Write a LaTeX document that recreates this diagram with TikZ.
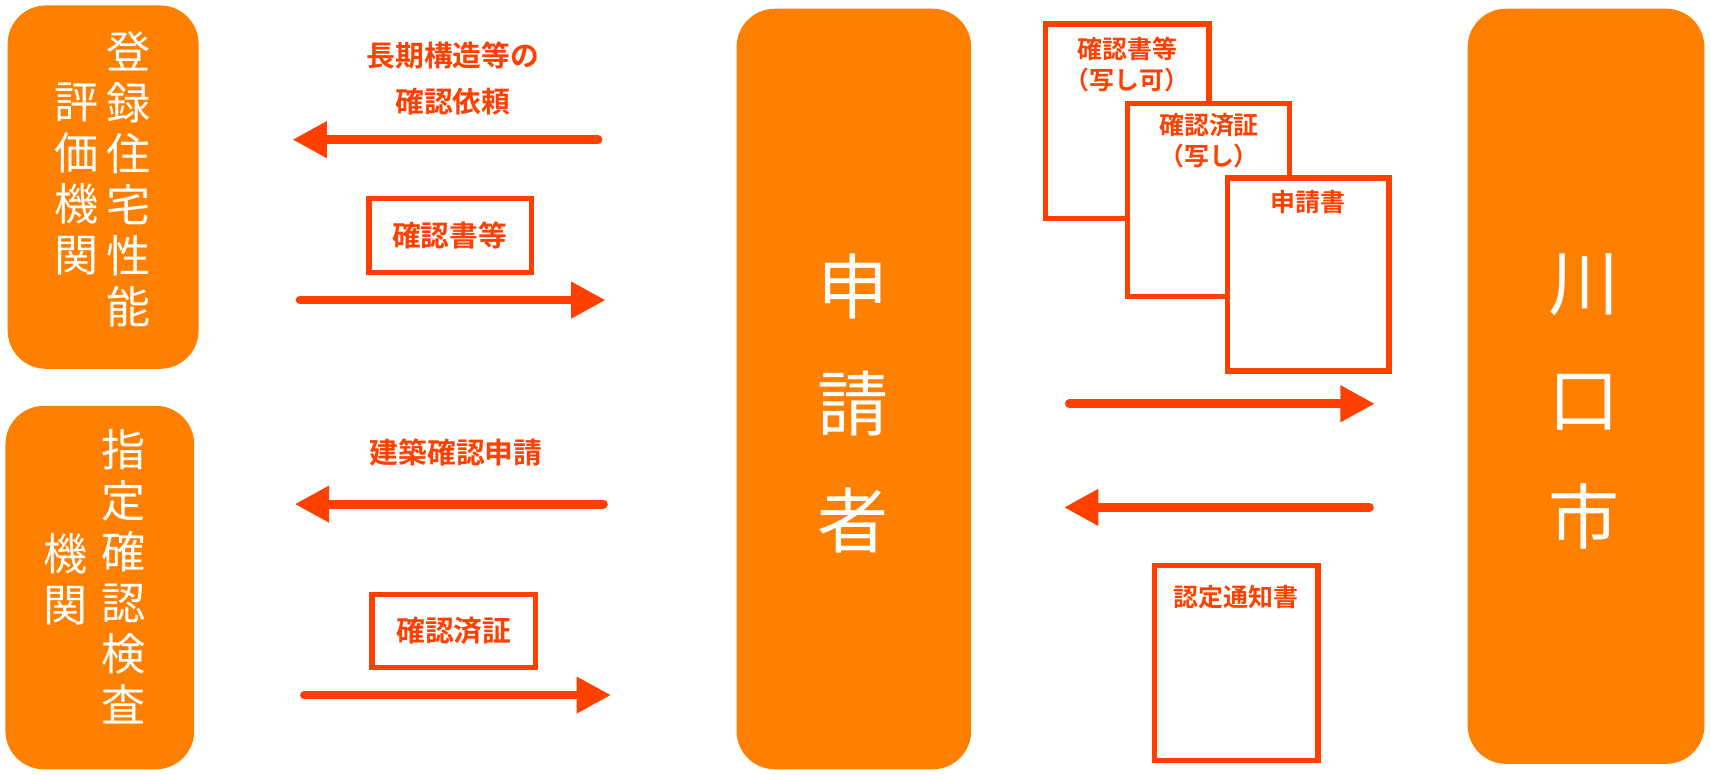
\documentclass[tikz,border=0pt]{standalone}
\usepackage{fontspec}
\setmainfont{Noto Sans CJK JP}[BoldFont={* Bold}]
\usetikzlibrary{arrows.meta}
\definecolor{boxorange}{RGB}{255,128,0}
\definecolor{arrowred}{RGB}{255,64,0}
\tikzset{
  party/.style = {fill = boxorange, rounded corners = 10pt, draw = none},
  tategaki/.style = {text = white, align = center, inner sep = 0pt, anchor = north},
  paper/.style = {draw = arrowred, line width = 1.4pt, fill = white},
  flow/.style = {arrowred, line width = 2.3pt, line cap = round, -{Triangle[length = 9pt, width = 9pt]}},
  label/.style = {text = arrowred, font = \fontsize{7.5}{12}\selectfont\bfseries, align = center},
  doclabel/.style = {label, font = \fontsize{6.5}{8}\selectfont\bfseries, anchor = north, inner sep = 1pt}
}
\begin{document}
\begin{tikzpicture}[x = 0.01cm, y = -0.01cm]

\useasboundingbox (0, 0) rectangle (1568, 710);

% organisations
\fill[party] (7, 5) rectangle (182, 338);
\fill[party] (5, 372) rectangle (178, 705);
\fill[party] (675, 8) rectangle (890, 705);
\fill[party] (1345, 8) rectangle (1562, 700);

\node[tategaki, font = \fontsize{11.5}{13.3}\selectfont] (tourokuR) at (118, 28) {登\\録\\住\\宅\\性\\能};
\node[tategaki, font = \fontsize{11.5}{13.3}\selectfont] (tourokuL) at (70, 75) {評\\価\\機\\関};

\node[tategaki, font = \fontsize{11.5}{13.3}\selectfont] (shiteiR) at (113, 393) {指\\定\\確\\認\\検\\査};
\node[tategaki, font = \fontsize{11.5}{13.3}\selectfont] (shiteiL) at (60, 488) {機\\関};

\node[tategaki, font = \fontsize{18.5}{30.5}\selectfont] (shinsei) at (782, 232) {申\\請\\者};
\node[tategaki, font = \fontsize{18.5}{30.5}\selectfont] (city) at (1452, 232) {川\\口\\市};

% left side
\node[label] (irai) at (415, 72) {長期構造等の\\確認依頼};
\coordinate (a1s) at (548, 128);
\coordinate (a1e) at (268, 128);
\draw[flow] (a1s) -- (a1e);

\draw[paper] (338, 182) rectangle (487, 250);
\node[label] (kakuninsho) at (412, 216) {確認書等};
\coordinate (a2s) at (275, 275);
\coordinate (a2e) at (555, 275);
\draw[flow] (a2s) -- (a2e);

\node[label] (kenchiku) at (418, 415) {建築確認申請};
\coordinate (a3s) at (553, 462);
\coordinate (a3e) at (270, 462);
\draw[flow] (a3s) -- (a3e);

\draw[paper] (341, 545) rectangle (491, 612);
\node[label] (zumisho) at (416, 578) {確認済証};
\coordinate (a4s) at (279, 637);
\coordinate (a4e) at (560, 637);
\draw[flow] (a4s) -- (a4e);

% right side
\draw[paper] (958, 22) rectangle (1108, 200);
\node[doclabel] (doc1) at (1033, 30) {確認書等\\（写し可）};
\draw[paper] (1033, 95) rectangle (1182, 272);
\node[doclabel] (doc2) at (1108, 100) {確認済証\\（写し）};
\draw[paper] (1125, 163) rectangle (1273, 340);
\node[doclabel] (doc3) at (1199, 170) {申請書};

\coordinate (b1s) at (980, 370);
\coordinate (b1e) at (1260, 370);
\draw[flow] (b1s) -- (b1e);
\coordinate (b2s) at (1255, 465);
\coordinate (b2e) at (975, 465);
\draw[flow] (b2s) -- (b2e);

\draw[paper] (1058, 518) rectangle (1208, 697);
\node[doclabel] (nintei) at (1133, 532) {認定通知書};

\end{tikzpicture}
\end{document}
